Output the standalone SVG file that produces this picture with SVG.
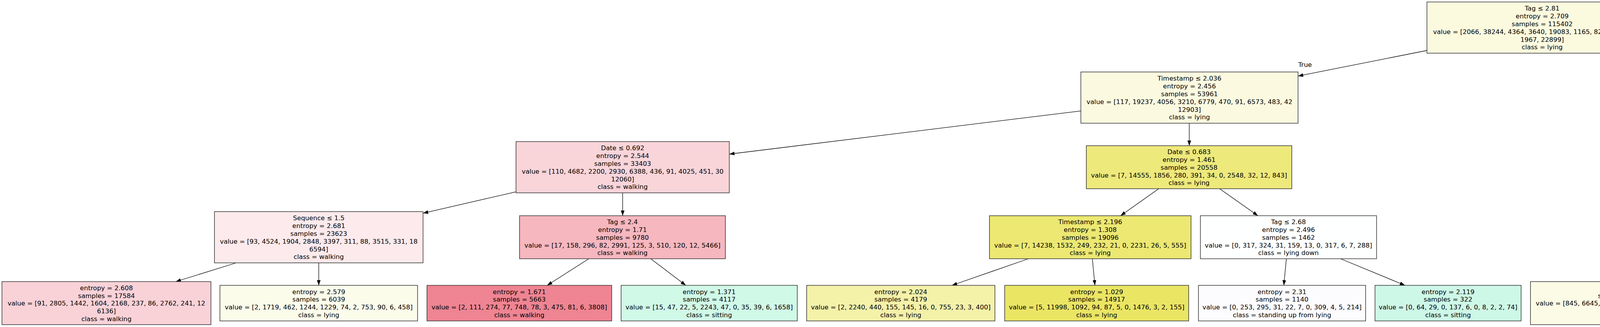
<svg xmlns="http://www.w3.org/2000/svg" width="7921" height="836" viewBox="0 0 7921 836">
<style>
.n rect{stroke:#333;stroke-width:1.5}
text{font-family:"DejaVu Sans","Liberation Sans",sans-serif;font-size:16.5px;text-anchor:middle;fill:#000}
.e line{stroke:#000;stroke-width:1.3;marker-end:url(#ah)}
</style>
<defs>
<marker id="ah" markerUnits="userSpaceOnUse" markerWidth="14" markerHeight="10" refX="13.3" refY="4.67" orient="auto">
<path d="M0,0 L13.3,4.67 L0,9.34 z" fill="#000"/>
</marker>
</defs>
<rect width="7921" height="836" fill="#fff"/>
<g id="edges" class="e">
<line x1="3653" y1="129" x2="3323" y2="194.4"/>
<line x1="4243" y1="124.7" x2="4648" y2="199.2"/>
<line x1="2767" y1="283.6" x2="1867" y2="394"/>
<line x1="3044.5" y1="315" x2="3044.5" y2="372.5"/>
<line x1="4921.5" y1="315" x2="4921.5" y2="362"/>
<line x1="5195" y1="282.1" x2="6138" y2="394.4"/>
<line x1="1321" y1="490.3" x2="1083" y2="545.1"/>
<line x1="1594" y1="493" x2="1594" y2="551.5"/>
<line x1="2966.3" y1="482.5" x2="2868.7" y2="551.5"/>
<line x1="3122.2" y1="482.5" x2="3220.3" y2="551.5"/>
<line x1="4819" y1="493" x2="4744" y2="541"/>
<line x1="5024" y1="493" x2="5115.5" y2="551.5"/>
<line x1="6416" y1="493" x2="6416" y2="541"/>
<line x1="6694" y1="490.9" x2="6945" y2="548.2"/>
<line x1="604.7" y1="672" x2="449.9" y2="720"/>
<line x1="816" y1="672" x2="816" y2="729.5"/>
<line x1="1507.3" y1="661.5" x2="1400.8" y2="729.5"/>
<line x1="1665.9" y1="661.5" x2="1755.6" y2="729.5"/>
<line x1="2632.7" y1="661.5" x2="2437" y2="729.5"/>
<line x1="2796.4" y1="661.5" x2="2803" y2="729.5"/>
<line x1="3293.1" y1="661.5" x2="3286.5" y2="729.5"/>
<line x1="3431.8" y1="661.5" x2="3596.7" y2="729.5"/>
<line x1="4455.7" y1="672" x2="4319.5" y2="720"/>
<line x1="4653.6" y1="672" x2="4662.4" y2="720"/>
<line x1="5191.9" y1="661.5" x2="5180" y2="729.5"/>
<line x1="5352.3" y1="661.5" x2="5538.8" y2="729.5"/>
<line x1="6322" y1="672" x2="6252.8" y2="720"/>
<line x1="6524.6" y1="672" x2="6619.4" y2="729.5"/>
<line x1="7200.5" y1="672" x2="7200.5" y2="720"/>
<line x1="7390.9" y1="672" x2="7557.8" y2="729.5"/>
</g>
<g id="edge-labels">
<text x="3341" y="171">True</text>
<text x="4629" y="176">False</text>
</g>
<g id="n0" class="n"><rect x="3653" y="5" width="590" height="131" fill="#fbfade"/>
<text y="27.3"><tspan x="3948">Tag ≤ 2.81</tspan><tspan x="3948" dy="19.8">entropy = 2.709</tspan><tspan x="3948" dy="19.8">samples = 115402</tspan><tspan x="3948" dy="19.8">value = [2066, 38244, 4364, 3640, 19083, 1165, 8224, 12774, 976</tspan><tspan x="3948" dy="19.8">1967, 22899]</tspan><tspan x="3948" dy="19.8">class = lying</tspan></text></g>
<g id="n1" class="n"><rect x="2767" y="184" width="556" height="131" fill="#fbfae0"/>
<text y="206.3"><tspan x="3045">Timestamp ≤ 2.036</tspan><tspan x="3045" dy="19.8">entropy = 2.456</tspan><tspan x="3045" dy="19.8">samples = 53961</tspan><tspan x="3045" dy="19.8">value = [117, 19237, 4056, 3210, 6779, 470, 91, 6573, 483, 42</tspan><tspan x="3045" dy="19.8">12903]</tspan><tspan x="3045" dy="19.8">class = lying</tspan></text></g>
<g id="n2" class="n"><rect x="4648" y="184" width="547" height="131" fill="#fbfae4"/>
<text y="206.3"><tspan x="4921.5">Timestamp ≤ 1.652</tspan><tspan x="4921.5" dy="19.8">entropy = 2.666</tspan><tspan x="4921.5" dy="19.8">samples = 61441</tspan><tspan x="4921.5" dy="19.8">value = [1949, 19007, 308, 430, 12304, 695, 8133, 6201, 493</tspan><tspan x="4921.5" dy="19.8">1925, 9996]</tspan><tspan x="4921.5" dy="19.8">class = lying</tspan></text></g>
<g id="n3" class="n"><rect x="1321" y="362" width="546" height="131" fill="#f9d5da"/>
<text y="384.3"><tspan x="1594">Date ≤ 0.692</tspan><tspan x="1594" dy="19.8">entropy = 2.544</tspan><tspan x="1594" dy="19.8">samples = 33403</tspan><tspan x="1594" dy="19.8">value = [110, 4682, 2200, 2930, 6388, 436, 91, 4025, 451, 30</tspan><tspan x="1594" dy="19.8">12060]</tspan><tspan x="1594" dy="19.8">class = walking</tspan></text></g>
<g id="n4" class="n"><rect x="2781" y="372.5" width="526" height="110" fill="#eee97b"/>
<text y="394.2"><tspan x="3044">Date ≤ 0.683</tspan><tspan x="3044" dy="19.8">entropy = 1.461</tspan><tspan x="3044" dy="19.8">samples = 20558</tspan><tspan x="3044" dy="19.8">value = [7, 14555, 1856, 280, 391, 34, 0, 2548, 32, 12, 843]</tspan><tspan x="3044" dy="19.8">class = lying</tspan></text></g>
<g id="n5" class="n"><rect x="4643" y="362" width="557" height="131" fill="#f9f8d4"/>
<text y="384.3"><tspan x="4921.5">Tag ≤ 3.819</tspan><tspan x="4921.5" dy="19.8">entropy = 2.43</tspan><tspan x="4921.5" dy="19.8">samples = 40284</tspan><tspan x="4921.5" dy="19.8">value = [1821, 15170, 31, 146, 8303, 209, 7154, 3587, 20, 773</tspan><tspan x="4921.5" dy="19.8">3070]</tspan><tspan x="4921.5" dy="19.8">class = lying</tspan></text></g>
<g id="n6" class="n"><rect x="6138" y="362" width="556" height="131" fill="#fbdde1"/>
<text y="384.3"><tspan x="6416">Tag ≤ 3.324</tspan><tspan x="6416" dy="19.8">entropy = 2.693</tspan><tspan x="6416" dy="19.8">samples = 21157</tspan><tspan x="6416" dy="19.8">value = [128, 3837, 277, 284, 4001, 486, 979, 2614, 473, 1152</tspan><tspan x="6416" dy="19.8">6926]</tspan><tspan x="6416" dy="19.8">class = walking</tspan></text></g>
<g id="n7" class="n"><rect x="549" y="541" width="534" height="131" fill="#fceaec"/>
<text y="563.3"><tspan x="816">Sequence ≤ 1.5</tspan><tspan x="816" dy="19.8">entropy = 2.681</tspan><tspan x="816" dy="19.8">samples = 23623</tspan><tspan x="816" dy="19.8">value = [93, 4524, 1904, 2848, 3397, 311, 88, 3515, 331, 18</tspan><tspan x="816" dy="19.8">6594]</tspan><tspan x="816" dy="19.8">class = walking</tspan></text></g>
<g id="n8" class="n"><rect x="1330" y="551.5" width="527" height="110" fill="#f6b7bf"/>
<text y="573.2"><tspan x="1593.5">Tag ≤ 2.4</tspan><tspan x="1593.5" dy="19.8">entropy = 1.71</tspan><tspan x="1593.5" dy="19.8">samples = 9780</tspan><tspan x="1593.5" dy="19.8">value = [17, 158, 296, 82, 2991, 125, 3, 510, 120, 12, 5466]</tspan><tspan x="1593.5" dy="19.8">class = walking</tspan></text></g>
<g id="n9" class="n"><rect x="2533" y="551.5" width="516" height="110" fill="#ece872"/>
<text y="573.2"><tspan x="2791">Timestamp ≤ 2.196</tspan><tspan x="2791" dy="19.8">entropy = 1.308</tspan><tspan x="2791" dy="19.8">samples = 19096</tspan><tspan x="2791" dy="19.8">value = [7, 14238, 1532, 249, 232, 21, 0, 2231, 26, 5, 555]</tspan><tspan x="2791" dy="19.8">class = lying</tspan></text></g>
<g id="n10" class="n"><rect x="3073" y="551.5" width="451" height="110" fill="#feffff"/>
<text y="573.2"><tspan x="3298.5">Tag ≤ 2.68</tspan><tspan x="3298.5" dy="19.8">entropy = 2.496</tspan><tspan x="3298.5" dy="19.8">samples = 1462</tspan><tspan x="3298.5" dy="19.8">value = [0, 317, 324, 31, 159, 13, 0, 317, 6, 7, 288]</tspan><tspan x="3298.5" dy="19.8">class = lying down</tspan></text></g>
<g id="n11" class="n"><rect x="4369" y="541" width="545" height="131" fill="#f4fefa"/>
<text y="563.3"><tspan x="4641.5">Sequence ≤ 1.5</tspan><tspan x="4641.5" dy="19.8">entropy = 2.551</tspan><tspan x="4641.5" dy="19.8">samples = 27485</tspan><tspan x="4641.5" dy="19.8">value = [1514, 7109, 28, 122, 8200, 196, 4531, 2251, 16, 663</tspan><tspan x="4641.5" dy="19.8">2855]</tspan><tspan x="4641.5" dy="19.8">class = sitting</tspan></text></g>
<g id="n12" class="n"><rect x="4938" y="551.5" width="527" height="110" fill="#f1ed95"/>
<text y="573.2"><tspan x="5201.5">Sequence ≤ 1.5</tspan><tspan x="5201.5" dy="19.8">entropy = 1.606</tspan><tspan x="5201.5" dy="19.8">samples = 12799</tspan><tspan x="5201.5" dy="19.8">value = [307, 8061, 3, 24, 103, 13, 2623, 1336, 4, 110, 215]</tspan><tspan x="5201.5" dy="19.8">class = lying</tspan></text></g>
<g id="n13" class="n"><rect x="6155" y="541" width="523" height="131" fill="#fef4f5"/>
<text y="563.3"><tspan x="6416.5">Timestamp ≤ 2.217</tspan><tspan x="6416.5" dy="19.8">entropy = 2.582</tspan><tspan x="6416.5" dy="19.8">samples = 12063</tspan><tspan x="6416.5" dy="19.8">value = [74, 2146, 175, 184, 3394, 423, 514, 585, 365, 337</tspan><tspan x="6416.5" dy="19.8">3866]</tspan><tspan x="6416.5" dy="19.8">class = walking</tspan></text></g>
<g id="n14" class="n"><rect x="6945" y="541" width="511" height="131" fill="#fbe2e5"/>
<text y="563.3"><tspan x="7200.5">Date ≤ 0.94</tspan><tspan x="7200.5" dy="19.8">entropy = 2.569</tspan><tspan x="7200.5" dy="19.8">samples = 9094</tspan><tspan x="7200.5" dy="19.8">value = [54, 1691, 102, 100, 607, 63, 465, 2029, 108, 815</tspan><tspan x="7200.5" dy="19.8">3060]</tspan><tspan x="7200.5" dy="19.8">class = walking</tspan></text></g>
<g id="n15" class="n"><rect x="5" y="720" width="535" height="110" fill="#f9d2d8"/>
<text y="741.7"><tspan x="272.5">entropy = 2.608</tspan><tspan x="272.5" dy="19.8">samples = 17584</tspan><tspan x="272.5" dy="19.8">value = [91, 2805, 1442, 1604, 2168, 237, 86, 2762, 241, 12</tspan><tspan x="272.5" dy="19.8">6136]</tspan><tspan x="272.5" dy="19.8">class = walking</tspan></text></g>
<g id="n16" class="n"><rect x="563" y="729.5" width="506" height="91" fill="#fcfceb"/>
<text y="751.6"><tspan x="816">entropy = 2.579</tspan><tspan x="816" dy="19.8">samples = 6039</tspan><tspan x="816" dy="19.8">value = [2, 1719, 462, 1244, 1229, 74, 2, 753, 90, 6, 458]</tspan><tspan x="816" dy="19.8">class = lying</tspan></text></g>
<g id="n17" class="n"><rect x="1093" y="729.5" width="473" height="91" fill="#ef8492"/>
<text y="751.6"><tspan x="1329.5">entropy = 1.671</tspan><tspan x="1329.5" dy="19.8">samples = 5663</tspan><tspan x="1329.5" dy="19.8">value = [2, 111, 274, 77, 748, 78, 3, 475, 81, 6, 3808]</tspan><tspan x="1329.5" dy="19.8">class = walking</tspan></text></g>
<g id="n18" class="n"><rect x="1590" y="729.5" width="451" height="91" fill="#d0f9e8"/>
<text y="751.6"><tspan x="1815.5">entropy = 1.371</tspan><tspan x="1815.5" dy="19.8">samples = 4117</tspan><tspan x="1815.5" dy="19.8">value = [15, 47, 22, 5, 2243, 47, 0, 35, 39, 6, 1658]</tspan><tspan x="1815.5" dy="19.8">class = sitting</tspan></text></g>
<g id="n19" class="n"><rect x="2065" y="729.5" width="482" height="91" fill="#f4f1a9"/>
<text y="751.6"><tspan x="2306">entropy = 2.024</tspan><tspan x="2306" dy="19.8">samples = 4179</tspan><tspan x="2306" dy="19.8">value = [2, 2240, 440, 155, 145, 16, 0, 755, 23, 3, 400]</tspan><tspan x="2306" dy="19.8">class = lying</tspan></text></g>
<g id="n20" class="n"><rect x="2572" y="729.5" width="471" height="91" fill="#ebe564"/>
<text y="751.6"><tspan x="2807.5">entropy = 1.029</tspan><tspan x="2807.5" dy="19.8">samples = 14917</tspan><tspan x="2807.5" dy="19.8">value = [5, 11998, 1092, 94, 87, 5, 0, 1476, 3, 2, 155]</tspan><tspan x="2807.5" dy="19.8">class = lying</tspan></text></g>
<g id="n21" class="n"><rect x="3068" y="729.5" width="428" height="91" fill="#fcfcff"/>
<text y="751.6"><tspan x="3282">entropy = 2.31</tspan><tspan x="3282" dy="19.8">samples = 1140</tspan><tspan x="3282" dy="19.8">value = [0, 253, 295, 31, 22, 7, 0, 309, 4, 5, 214]</tspan><tspan x="3282" dy="19.8">class = standing up from lying</tspan></text></g>
<g id="n22" class="n"><rect x="3520" y="729.5" width="374" height="91" fill="#cdf8e7"/>
<text y="751.6"><tspan x="3707">entropy = 2.119</tspan><tspan x="3707" dy="19.8">samples = 322</tspan><tspan x="3707" dy="19.8">value = [0, 64, 29, 0, 137, 6, 0, 8, 2, 2, 74]</tspan><tspan x="3707" dy="19.8">class = sitting</tspan></text></g>
<g id="n23" class="n"><rect x="3918" y="720" width="491" height="110" fill="#fcfbe6"/>
<text y="741.7"><tspan x="4163.5">entropy = 2.233</tspan><tspan x="4163.5" dy="19.8">samples = 16728</tspan><tspan x="4163.5" dy="19.8">value = [845, 6645, 12, 39, 5181, 98, 753, 1471, 9, 150</tspan><tspan x="4163.5" dy="19.8">1525]</tspan><tspan x="4163.5" dy="19.8">class = lying</tspan></text></g>
<g id="n24" class="n"><rect x="4433" y="720" width="479" height="110" fill="#ecf1fc"/>
<text y="741.7"><tspan x="4672.5">entropy = 2.483</tspan><tspan x="4672.5" dy="19.8">samples = 10757</tspan><tspan x="4672.5" dy="19.8">value = [669, 464, 16, 83, 3019, 98, 3778, 780, 7, 513</tspan><tspan x="4672.5" dy="19.8">1330]</tspan><tspan x="4672.5" dy="19.8">class = sitting on the ground</tspan></text></g>
<g id="n25" class="n"><rect x="4936" y="729.5" width="472" height="91" fill="#789ded"/>
<text y="751.6"><tspan x="5172">entropy = 1.44</tspan><tspan x="5172" dy="19.8">samples = 3488</tspan><tspan x="5172" dy="19.8">value = [41, 501, 2, 14, 90, 11, 2544, 105, 4, 105, 71]</tspan><tspan x="5172" dy="19.8">class = sitting on the ground</tspan></text></g>
<g id="n26" class="n"><rect x="5432" y="729.5" width="463" height="91" fill="#ebe564"/>
<text y="751.6"><tspan x="5663.5">entropy = 0.962</tspan><tspan x="5663.5" dy="19.8">samples = 9311</tspan><tspan x="5663.5" dy="19.8">value = [266, 7560, 1, 10, 13, 2, 79, 1231, 0, 5, 144]</tspan><tspan x="5663.5" dy="19.8">class = lying</tspan></text></g>
<g id="n27" class="n"><rect x="5918" y="720" width="511" height="110" fill="#f9d1d6"/>
<text y="741.7"><tspan x="6173.5">entropy = 2.613</tspan><tspan x="6173.5" dy="19.8">samples = 8483</tspan><tspan x="6173.5" dy="19.8">value = [73, 1002, 85, 160, 1833, 352, 513, 454, 292, 326</tspan><tspan x="6173.5" dy="19.8">3393]</tspan><tspan x="6173.5" dy="19.8">class = walking</tspan></text></g>
<g id="n28" class="n"><rect x="6453" y="729.5" width="483" height="91" fill="#ddfbef"/>
<text y="751.6"><tspan x="6694.5">entropy = 2.049</tspan><tspan x="6694.5" dy="19.8">samples = 3580</tspan><tspan x="6694.5" dy="19.8">value = [1, 1144, 90, 24, 1561, 71, 1, 131, 73, 11, 473]</tspan><tspan x="6694.5" dy="19.8">class = sitting</tspan></text></g>
<g id="n29" class="n"><rect x="6961" y="720" width="479" height="110" fill="#fef7f8"/>
<text y="741.7"><tspan x="7200.5">entropy = 2.65</tspan><tspan x="7200.5" dy="19.8">samples = 7195</tspan><tspan x="7200.5" dy="19.8">value = [47, 1252, 60, 89, 549, 54, 465, 1796, 87, 769</tspan><tspan x="7200.5" dy="19.8">2027]</tspan><tspan x="7200.5" dy="19.8">class = walking</tspan></text></g>
<g id="n30" class="n"><rect x="7465" y="729.5" width="450" height="91" fill="#f4aeb8"/>
<text y="751.6"><tspan x="7690">entropy = 1.924</tspan><tspan x="7690" dy="19.8">samples = 1899</tspan><tspan x="7690" dy="19.8">value = [7, 439, 42, 11, 58, 9, 0, 233, 21, 46, 1033]</tspan><tspan x="7690" dy="19.8">class = walking</tspan></text></g>
</svg>
